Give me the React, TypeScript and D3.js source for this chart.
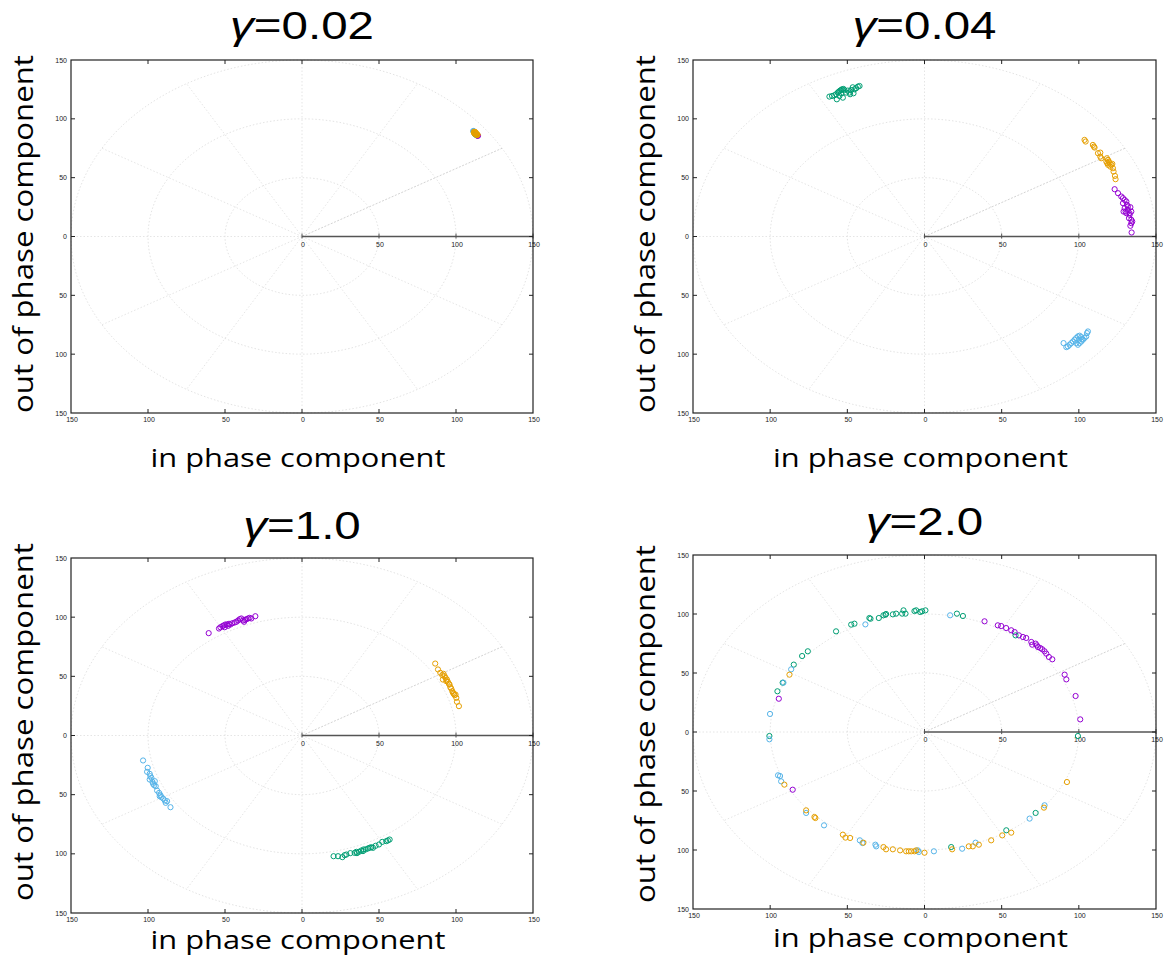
import React from 'react';
import * as d3 from 'd3';

type Pt = [number, number];

const axisTicks = [-150, -100, -50, 0, 50, 100, 150];
const polarTicks = [0, 50, 100, 150];
const gridRadii = [50, 100, 150];
const spokeAngles = [30, 60, 90, 120, 150, 180, 210, 240, 270, 300, 330];
const seriesColors = ['#9400d3', '#009e73', '#56b4e9', '#e69f00'];
const gammaLabels = ['0.02', '0.04', '1.0', '2.0'];
const xAxisTitle = 'in phase component';
const yAxisTitle = 'out of phase component';

// ---- gamma = 0.02 ----
const p1Purple: Pt[] = [[113.9, 86.0], [114.3, 85.6], [113.6, 86.3], [113.3, 86.6], [113.8, 85.7]];
const p1Green: Pt[] = [[112.5, 87.0], [113.0, 86.5], [112.0, 87.6], [113.4, 86.2], [112.7, 87.2]];
const p1Blue: Pt[] = [[111.4, 89.4], [111.6, 89.1], [111.8, 88.8], [112.2, 88.3], [111.2, 89.7]];
const p1Orange: Pt[] = [[111.7, 89.0], [112.0, 88.5], [112.5, 87.9], [113.0, 87.3], [113.5, 86.7], [111.9, 88.0], [112.8, 88.3], [113.2, 87.6], [112.2, 87.2], [113.8, 86.2], [112.4, 88.9], [111.6, 88.3], [113.3, 86.3], [114.0, 86.6]];

// ---- gamma = 0.04 ----
const p2Purple: Pt[] = [[123.2, 40.2], [125.4, 36.8], [127.5, 34.0], [128.6, 32.6], [129.7, 31.1], [128.6, 28.3], [130.8, 29.7], [131.2, 26.9], [129.7, 24.1], [130.3, 21.2], [131.8, 22.6], [133.4, 24.9], [134.0, 21.2], [130.8, 19.8], [132.9, 18.4], [132.5, 15.6], [134.0, 14.2], [134.6, 12.7], [134.0, 11.3], [133.4, 9.1], [134.2, 3.4], [129.0, 21.2], [131.8, 25.5], [132.9, 19.8]];
const p2Green: Pt[] = [[-61.6, 118.9], [-59.9, 119.4], [-58.4, 120.0], [-57.3, 120.9], [-56.2, 122.3], [-55.5, 123.1], [-54.7, 124.0], [-54.0, 124.5], [-53.4, 125.1], [-52.5, 125.4], [-51.9, 124.5], [-56.8, 116.6], [-52.9, 118.0], [-55.1, 119.4], [-54.0, 121.7], [-48.6, 122.3], [-47.5, 124.5], [-46.5, 126.8], [-45.4, 125.1], [-44.3, 126.0], [-43.2, 127.4], [-42.1, 127.9], [-46.0, 121.7], [-48.2, 120.9], [-50.8, 122.3], [-49.7, 124.0]];
const p2Blue: Pt[] = [[90.1, -90.6], [91.9, -94.0], [92.9, -93.4], [94.0, -92.0], [95.1, -90.6], [96.2, -89.2], [97.3, -87.7], [98.3, -86.3], [99.4, -84.9], [100.5, -84.3], [101.6, -85.5], [98.3, -90.6], [99.4, -92.0], [100.5, -90.6], [101.6, -89.2], [102.7, -87.7], [103.7, -86.3], [104.8, -84.9], [105.3, -82.1], [105.9, -80.7], [100.1, -87.7], [102.2, -87.2]];
const p2Orange: Pt[] = [[103.7, 82.1], [104.4, 80.7], [109.1, 77.8], [109.8, 76.4], [110.2, 75.6], [112.4, 70.8], [113.9, 71.3], [113.9, 67.9], [114.5, 66.5], [118.2, 66.5], [118.9, 65.1], [119.5, 63.7], [119.9, 62.3], [118.9, 60.9], [120.4, 59.4], [121.0, 60.9], [121.7, 61.7], [122.1, 58.0], [122.5, 55.2], [123.4, 51.5], [123.8, 48.7], [117.8, 63.7], [118.4, 62.3]];

// ---- gamma = 1.0 ----
const p3Purple: Pt[] = [[-60.6, 86.5], [-53.9, 90.4], [-53.0, 91.5], [-51.7, 92.4], [-50.8, 93.0], [-49.8, 93.8], [-48.7, 93.8], [-47.4, 94.4], [-46.5, 93.8], [-45.2, 94.9], [-43.7, 95.5], [-42.6, 96.1], [-41.5, 97.2], [-40.4, 98.3], [-39.4, 98.9], [-38.3, 97.2], [-37.6, 96.1], [-37.0, 97.7], [-36.1, 98.3], [-35.0, 98.9], [-34.0, 99.4], [-32.9, 98.9], [-30.3, 100.8], [-50.2, 91.5], [-48.0, 92.7]];
const p3Green: Pt[] = [[20.5, -102.0], [23.4, -102.0], [26.2, -102.8], [27.7, -101.1], [28.8, -100.6], [31.4, -99.4], [34.2, -99.2], [35.7, -99.4], [37.0, -98.3], [38.5, -97.2], [40.0, -96.3], [41.3, -96.3], [42.8, -95.5], [43.9, -94.9], [45.0, -94.4], [46.1, -94.9], [47.8, -93.2], [50.0, -92.1], [52.1, -89.9], [54.7, -89.3], [55.8, -88.7], [56.9, -87.9], [39.6, -97.7], [35.3, -98.3]];
const p3Blue: Pt[] = [[-103.2, -21.1], [-100.2, -27.3], [-100.6, -30.7], [-98.9, -32.4], [-98.4, -34.4], [-97.8, -35.8], [-98.9, -37.2], [-97.1, -39.2], [-96.7, -40.8], [-96.0, -42.0], [-95.0, -42.8], [-94.1, -46.5], [-92.8, -48.5], [-91.9, -50.4], [-91.3, -52.1], [-90.2, -53.2], [-89.1, -54.9], [-88.5, -56.9], [-87.6, -55.5], [-85.4, -60.6], [-95.6, -38.6], [-92.4, -51.3]];
const p3Orange: Pt[] = [[86.5, 60.8], [88.3, 55.8], [89.8, 53.0], [91.1, 51.0], [91.9, 52.1], [92.6, 50.1], [91.5, 47.3], [93.2, 48.7], [93.7, 45.9], [94.7, 45.4], [95.4, 43.7], [96.3, 40.8], [96.9, 39.7], [97.6, 37.5], [98.0, 36.1], [98.6, 35.2], [99.1, 34.1], [99.7, 34.6], [100.2, 31.8], [100.6, 28.5], [101.9, 24.8], [95.8, 43.1], [94.1, 47.3]];

// ---- gamma = 2.0 ----
const p4Purple: Pt[] = [[38.9, 93.8], [47.5, 90.4], [49.7, 89.8], [52.9, 88.1], [56.2, 86.2], [58.4, 84.7], [61.2, 81.9], [63.8, 80.5], [65.9, 79.7], [69.2, 76.3], [69.8, 74.0], [72.0, 74.9], [72.8, 73.4], [73.5, 72.0], [75.0, 71.2], [76.3, 70.1], [77.8, 68.4], [78.9, 66.4], [80.6, 63.6], [82.8, 61.6], [90.8, 48.6], [91.9, 44.6], [97.9, 30.5], [100.9, 10.7], [-94.4, 28.2], [-85.4, -48.9]];
const p4Green: Pt[] = [[-57.3, 85.3], [-47.5, 91.0], [-45.4, 91.8], [-35.7, 96.6], [-35.0, 96.0], [-29.6, 96.6], [-26.6, 98.9], [-25.3, 99.4], [-24.9, 100.0], [-20.5, 99.7], [-18.4, 100.3], [-14.5, 100.3], [-13.6, 103.1], [-12.3, 100.3], [-6.5, 102.5], [-5.4, 103.1], [-2.8, 101.7], [-1.5, 102.3], [0.6, 103.1], [21.0, 100.3], [24.9, 98.3], [-75.6, 68.4], [-79.3, 64.4], [-84.7, 57.1], [-91.9, 41.8], [-95.3, 34.5], [-100.5, -3.4], [99.4, -3.4], [59.0, 81.9], [53.0, -83.3], [72.0, -68.6], [17.3, -97.5]];
const p4Blue: Pt[] = [[-38.3, 91.2], [16.6, 98.9], [-100.1, 15.3], [-100.5, -6.2], [-94.9, -36.7], [-93.6, -37.3], [-92.9, -41.8], [-86.4, 53.1], [-91.4, 41.8], [-76.7, -68.6], [-65.1, -79.1], [-41.9, -91.8], [-40.2, -94.1], [-31.8, -95.5], [-31.3, -96.9], [-4.3, -100.3], [6.1, -101.1], [24.4, -98.9], [33.1, -93.8], [68.1, -73.4], [77.8, -62.1], [-3.7, -101.7]];
const p4Orange: Pt[] = [[-87.5, 48.6], [-90.8, -44.6], [-76.7, -66.4], [-71.3, -72.0], [-52.9, -87.0], [-51.2, -89.5], [-48.2, -89.8], [-39.6, -93.8], [-26.6, -97.5], [-24.9, -99.4], [-20.5, -99.4], [-15.8, -100.3], [-11.9, -101.1], [-10.2, -101.1], [-8.6, -101.1], [-6.5, -101.1], [-5.4, -100.3], [0.0, -102.3], [17.9, -99.4], [28.7, -96.9], [31.3, -96.9], [35.2, -95.5], [43.2, -91.8], [50.4, -87.6], [56.2, -85.3], [77.4, -64.1], [92.3, -42.4], [-70.7, -72.9]];

interface Box { l: number; r: number; t: number; b: number }
interface PanelSpec {
  box: Box;
  gamma: string;
  titleY: number;
  xLabelY: number;
  yLabelX: number;
  yLabelCy: number;
  series: Pt[][];
}

const panels: PanelSpec[] = [
  { box: { l: 71, r: 533, t: 60, b: 413 }, gamma: gammaLabels[0], titleY: 39, xLabelY: 467, yLabelX: 33, yLabelCy: 234, series: [p1Purple, p1Green, p1Blue, p1Orange] },
  { box: { l: 693, r: 1156, t: 60, b: 413 }, gamma: gammaLabels[1], titleY: 39, xLabelY: 467, yLabelX: 655, yLabelCy: 234, series: [p2Purple, p2Green, p2Blue, p2Orange] },
  { box: { l: 71, r: 533, t: 558, b: 913 }, gamma: gammaLabels[2], titleY: 539, xLabelY: 949, yLabelX: 33, yLabelCy: 722, series: [p3Purple, p3Green, p3Blue, p3Orange] },
  { box: { l: 693, r: 1156, t: 555, b: 909 }, gamma: gammaLabels[3], titleY: 535, xLabelY: 947, yLabelX: 655, yLabelCy: 724, series: [p4Purple, p4Green, p4Blue, p4Orange] },
];

const tickFont = '"Liberation Sans", Arial, sans-serif';

function Panel({ spec }: { spec: PanelSpec }) {
  const { box } = spec;
  const x = d3.scaleLinear().domain([-150, 150]).range([box.l, box.r]);
  const y = d3.scaleLinear().domain([-150, 150]).range([box.b, box.t]);
  const line = d3.line<Pt>().x((d) => x(d[0])).y((d) => y(d[1]));
  const ellipse = (r: number) =>
    line(d3.range(0, 361, 2).map((a) => [r * Math.cos((a * Math.PI) / 180), r * Math.sin((a * Math.PI) / 180)] as Pt)) || '';
  const cx = (box.l + box.r) / 2;
  const inner = axisTicks.slice(1, -1);
  return (
    <g>
      {/* title */}
      <g transform={`translate(${cx},${spec.titleY}) scale(1.25,1)`}>
        <text textAnchor="middle" fontFamily={tickFont} fontSize={38} fill="#000">
          <tspan fontStyle="italic">γ</tspan>={spec.gamma}
        </text>
      </g>
      {/* grid */}
      {gridRadii.map((r) => (
        <path key={'c' + r} d={ellipse(r)} fill="none" stroke="#dcdcdc" strokeWidth={0.8} strokeDasharray="1.5,2" />
      ))}
      {spokeAngles.map((a) => {
        const rad = (a * Math.PI) / 180;
        return (
          <line
            key={'s' + a}
            x1={x(0)}
            y1={y(0)}
            x2={x(150 * Math.cos(rad))}
            y2={y(150 * Math.sin(rad))}
            stroke={a === 30 ? '#c8c8c8' : '#dedede'}
            strokeWidth={0.8}
            strokeDasharray={a === 30 ? '2,1.5' : '1.5,2'}
          />
        );
      })}
      {/* polar r axis */}
      <line x1={x(0)} y1={y(0)} x2={x(150)} y2={y(0)} stroke="#555" strokeWidth={1.6} />
      {polarTicks.map((v) => (
        <g key={'pt' + v}>
          <line x1={x(v)} x2={x(v)} y1={y(0) - 3} y2={y(0) + 2} stroke="#555" strokeWidth={1} />
          <text x={x(v) + 1} y={y(0) + 10} textAnchor="middle" fontFamily={tickFont} fontSize={7} fill="#222">
            {v}
          </text>
        </g>
      ))}
      {/* points */}
      {spec.series.map((pts, si) =>
        pts.map((p, i) => (
          <circle key={si + '-' + i} cx={x(p[0])} cy={y(p[1])} r={2.6} fill="none" stroke={seriesColors[si]} strokeWidth={1} />
        ))
      )}
      {/* frame */}
      <rect x={box.l} y={box.t} width={box.r - box.l} height={box.b - box.t} fill="none" stroke="#222" strokeWidth={1.2} />
      {inner.map((v) => (
        <g key={'ft' + v}>
          <line x1={x(v)} x2={x(v)} y1={box.b} y2={box.b - 4} stroke="#222" strokeWidth={1} />
          <line x1={x(v)} x2={x(v)} y1={box.t} y2={box.t + 4} stroke="#222" strokeWidth={1} />
          <line x1={box.l} x2={box.l + 4} y1={y(v)} y2={y(v)} stroke="#222" strokeWidth={1} />
          <line x1={box.r} x2={box.r - 4} y1={y(v)} y2={y(v)} stroke="#222" strokeWidth={1} />
        </g>
      ))}
      {/* tick labels */}
      {axisTicks.map((v) => (
        <text key={'yl' + v} x={box.l - 4} y={y(v) + 2.5} textAnchor="end" fontFamily={tickFont} fontSize={7} fill="#222">
          {Math.abs(v)}
        </text>
      ))}
      {axisTicks.map((v) => (
        <text key={'xl' + v} x={x(v) + 1} y={box.b + 9} textAnchor="middle" fontFamily={tickFont} fontSize={7} fill="#222">
          {Math.abs(v)}
        </text>
      ))}
      {/* axis titles */}
      <text x={cx - 4} y={spec.xLabelY} textAnchor="middle" fontFamily='"Open Sans", sans-serif' fontSize={26} fill="#000" textLength={295} lengthAdjust="spacingAndGlyphs">
        {xAxisTitle}
      </text>
      <text
        transform={`translate(${spec.yLabelX},${spec.yLabelCy}) rotate(-90)`}
        textAnchor="middle"
        fontFamily='"Open Sans", sans-serif'
        fontSize={28}
        fill="#000"
        textLength={358}
        lengthAdjust="spacingAndGlyphs"
      >
        {yAxisTitle}
      </text>
    </g>
  );
}

export default function App() {
  return (
    <svg width={1170} height={958} style={{ position: 'absolute', left: 0, top: 0, background: '#fff' }}>
      <rect width={1170} height={958} fill="#fff" />
      {panels.map((p, i) => (
        <Panel key={i} spec={p} />
      ))}
    </svg>
  );
}
